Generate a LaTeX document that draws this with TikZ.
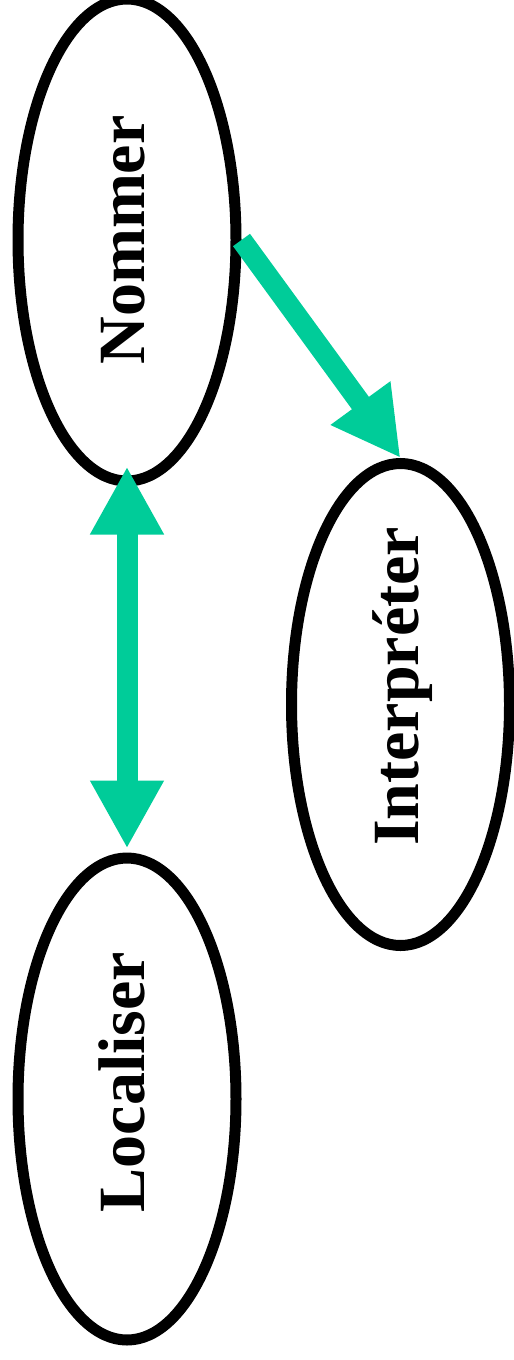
\documentclass[tikz,border=0pt]{standalone}
\usepackage{fontspec}
\setmainfont{Liberation Serif}
\usetikzlibrary{shapes.geometric,arrows.meta}
\definecolor{vert}{RGB}{0,204,153}
\tikzset{
  etape/.style={ellipse,draw=black,line width=11pt,minimum width=218pt,minimum height=482pt,inner sep=0pt},
  mot/.style={rotate=90,anchor=base,font=\bfseries\fontsize{66}{78}\selectfont},
  fleche/.style={draw=vert,line width=21pt},
  Pointe/.tip={Triangle[length=68pt,width=69pt]}
}
\begin{document}
\begin{tikzpicture}[x=1pt,y=-1pt]
\useasboundingbox (0,0) rectangle (514,1360);
% les trois ellipses
\node[etape] (nommer) at (127,240) {};
\node[etape] (interpreter) at (400.5,704.5) {};
\node[etape] (localiser) at (127,1099) {};
\node[mot] at ([xshift=17pt]nommer) {Nommer};
\node[mot] at ([xshift=17.5pt,yshift=18pt]interpreter) {Interpréter};
\node[mot] at ([xshift=17pt,yshift=17pt]localiser) {Localiser};
% fleches
\draw[fleche,Pointe-Pointe,shorten <=-20pt,shorten >=4pt] (nommer.south) -- (localiser.north);
\draw[fleche,-Pointe] (nommer.east) -- (interpreter.north);
\end{tikzpicture}
\end{document}
